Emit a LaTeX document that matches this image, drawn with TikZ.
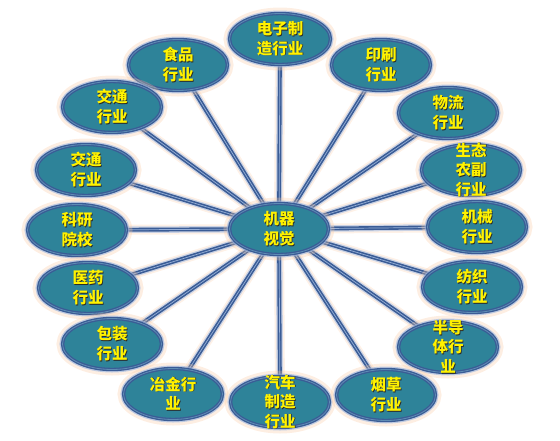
\documentclass[tikz,border=0pt]{standalone}
\usepackage{fontspec}
\newfontfamily\cjk{Noto Sans CJK SC}
\usetikzlibrary{shapes.geometric,backgrounds}
\definecolor{sectfill}{RGB}{46,131,153}
\definecolor{sectedge}{RGB}{58,92,150}
\definecolor{sectring}{RGB}{95,140,180}
\definecolor{glowpeach}{RGB}{250,200,160}
\definecolor{glowblue}{RGB}{150,180,225}
\definecolor{linkline}{RGB}{58,92,150}
\definecolor{linkcore}{RGB}{150,175,215}
\definecolor{txtshadow}{RGB}{40,40,40}
\newcommand\shtxt[1]{\rlap{\hspace{0.8pt}\raisebox{-0.8pt}{\color{txtshadow}#1}}#1}

\begin{document}
\begin{tikzpicture}[
  x=1pt,y=-1pt,
  sector/.style={ellipse,fill=sectfill,draw=sectedge,line width=1.3pt,
    double=sectring,double distance=0.8pt,inner sep=0pt,
    minimum width=99pt,minimum height=51pt,
    preaction={draw=glowpeach,line width=12pt,opacity=0.3},
    preaction={draw=glowblue,line width=6pt,opacity=0.6}},
  lab/.style={text=yellow,font=\cjk\bfseries\fontsize{15.5}{19.5}\selectfont,
    align=center,inner sep=0pt},
  link/.style={draw=linkline,line width=1.6pt,double=linkcore,double distance=0.7pt,
    preaction={draw=glowpeach,line width=10pt,opacity=0.25},
    preaction={draw=glowblue,line width=6.5pt,opacity=0.5}}
]
  \useasboundingbox (0,0) rectangle (560,440);
  % Center
  \node[sector,label={[lab]center:\shtxt{机器}\\\shtxt{视觉}}] (jq) at (279,229) {};
  % Upper ring
  \node[sector,minimum width=101pt,label={[lab]center:\shtxt{电子制}\\\shtxt{造行业}}] (dz) at (280,39) {};
  \node[sector,label={[lab]center:\shtxt{食品}\\\shtxt{行业}}] (sp) at (178,65) {};
  \node[sector,label={[lab]center:\shtxt{印刷}\\\shtxt{行业}}] (ys) at (381,65) {};
  \node[sector,label={[lab]center:\shtxt{交通}\\\shtxt{行业}}] (jta) at (112,107) {};
  \node[sector,label={[lab]center:\shtxt{物流}\\\shtxt{行业}}] (wl) at (448,113) {};
  % Middle ring
  \node[sector,label={[lab]center:\shtxt{交通}\\\shtxt{行业}}] (jtb) at (86,170) {};
  \node[sector,label={[lab]center:\shtxt{生态}\\\shtxt{农副}\\\shtxt{行业}}] (st) at (471,170) {};
  \node[sector,label={[lab]center:\shtxt{科研}\\\shtxt{院校}}] (ky) at (77,230) {};
  \node[sector,label={[lab]center:\shtxt{机械}\\\shtxt{行业}}] (jx) at (477,227) {};
  \node[sector,label={[lab]center:\shtxt{医药}\\\shtxt{行业}}] (yy) at (88,288) {};
  \node[sector,label={[lab]center:\shtxt{纺织}\\\shtxt{行业}}] (fz) at (472,287) {};
  % Lower ring
  \node[sector,label={[lab]center:\shtxt{包装}\\\shtxt{行业}}] (bz) at (112,344) {};
  \node[sector,label={[lab]center:\shtxt{半导}\\\shtxt{体行}\\\shtxt{业}}] (bd) at (448,347) {};
  \node[sector,label={[lab]center:\shtxt{冶金行}\\\shtxt{业}}] (yj) at (173,394) {};
  \node[sector,label={[lab]center:\shtxt{汽车}\\\shtxt{制造}\\\shtxt{行业}}] (qc) at (280,402) {};
  \node[sector,label={[lab]center:\shtxt{烟草}\\\shtxt{行业}}] (yc) at (386,395) {};
  % Spokes
  \begin{scope}[on background layer]
    \foreach \n in {dz,sp,ys,jta,wl,jtb,st,ky,jx,yy,fz,bz,bd,yj,qc,yc}
      \draw[link] (jq.center) -- (\n.center);
  \end{scope}
\end{tikzpicture}
\end{document}
